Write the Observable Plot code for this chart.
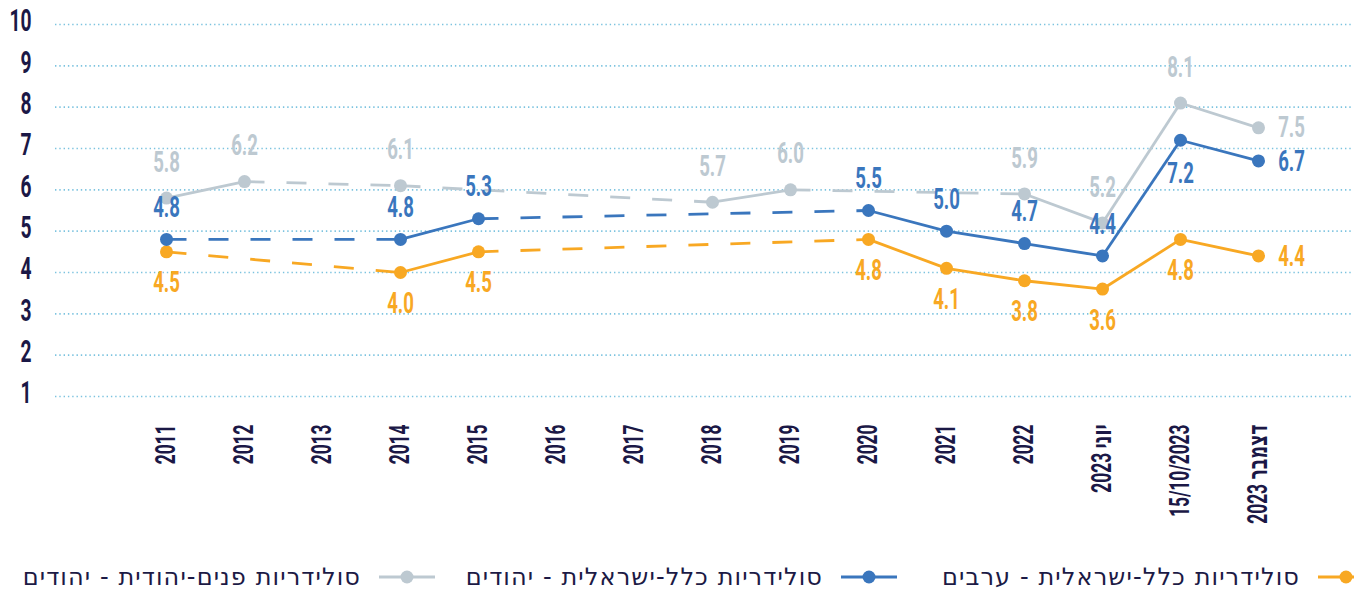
<!DOCTYPE html>
<html>
<head>
<meta charset="utf-8">
<script src="https://cdn.jsdelivr.net/npm/d3@7"></script>
<script src="https://cdn.jsdelivr.net/npm/@observablehq/plot@0.6"></script>
<style>
  html, body { margin: 0; padding: 0; background: #fff; overflow: hidden; }
  #wrap { position: relative; width: 1354px; height: 591px; overflow: hidden; }
  #legend .item { position: absolute; top: 563px; display: flex; flex-direction: row; align-items: center; gap: 18px;
            font-family: "DejaVu Sans", "Liberation Sans", sans-serif; font-size: 24px; letter-spacing: 1.1px; color: #1c1a45; white-space: nowrap; direction: rtl; }
  #legend svg { display: block; }
</style>
</head>
<body>
<div id="wrap"><div id="chart"></div><div id="legend"></div></div>
<script>
const categories = ["2011","2012","2013","2014","2015","2016","2017","2018","2019","2020","2021","2022","יוני 2023","15/10/2023","דצמבר 2023"];
const seriesNames = ["סולידריות כלל-ישראלית - ערבים", "סולידריות כלל-ישראלית - יהודים", "סולידריות פנים-יהודית - יהודים"];
const seriesColors = ["#f8a823", "#3a76bd", "#bdc9d1"];
const arabsIsraeli  = [4.5, null, null, 4.0, 4.5, null, null, null, null, 4.8, 4.1, 3.8, 3.6, 4.8, 4.4];
const jewsIsraeli   = [4.8, null, null, 4.8, 5.3, null, null, null, null, 5.5, 5.0, 4.7, 4.4, 7.2, 6.7];
const jewsInternal  = [5.8, 6.2, null, 6.1, null, null, null, 5.7, 6.0, null, null, 5.9, 5.2, 8.1, 7.5];
const yTicks = [1, 2, 3, 4, 5, 6, 7, 8, 9, 10];

const seriesValues = [arabsIsraeli, jewsIsraeli, jewsInternal];
const points = [];
const segments = [];
seriesValues.forEach((vals, si) => {
  let prev = null;
  vals.forEach((v, i) => {
    if (v == null) return;
    const p = {series: seriesNames[si], si, cat: categories[i], idx: i, value: v};
    points.push(p);
    if (prev) segments.push({series: seriesNames[si], si, x1: prev.cat, y1: prev.value, x2: p.cat, y2: p.value, gap: p.idx - prev.idx > 1});
    prev = p;
  });
});
const last = categories[categories.length - 1];
const oct = categories[categories.length - 2];

const font = "Roboto, 'DejaVu Sans', sans-serif";
const navy = "#1b1846";
const fmt = d => d.value.toFixed(1);

const chart = Plot.plot({
  width: 1354, height: 555,
  marginLeft: 55, marginRight: 2, marginTop: 24, marginBottom: 159,
  style: {fontFamily: font, background: "#fff", overflow: "visible"},
  x: {type: "point", domain: categories, padding: 0, insetLeft: 108, insetRight: 92},
  y: {domain: [1, 10]},
  color: {domain: seriesNames, range: seriesColors},
  marks: [
    Plot.ruleY(yTicks, {stroke: "#7cc3df", strokeWidth: 1.6, strokeDasharray: "1.4 2.9"}),
    Plot.axisY({ticks: yTicks, tickSize: 0, tickPadding: 24, dy: -3, fontSize: 31, fontWeight: "bold", fill: navy, label: null}),
    Plot.axisX({tickSize: 0, tickRotate: -90, tickPadding: 28, fontSize: 28, fontWeight: "bold", fill: navy, label: null}),
    Plot.link(segments.filter(d => !d.gap), {x1: "x1", y1: "y1", x2: "x2", y2: "y2", stroke: "series", strokeWidth: 2.8}),
    Plot.link(segments.filter(d => d.gap), {x1: "x1", y1: "y1", x2: "x2", y2: "y2", stroke: "series", strokeWidth: 2.8, strokeDasharray: "20 22"}),
    Plot.dot(points, {x: "cat", y: "value", fill: "series", r: 6.5}),
    Plot.text(points.filter(d => d.si === 2 && d.cat !== last), {x: "cat", y: "value", text: fmt, fill: "series", dy: -36, fontSize: 30, fontWeight: "bold"}),
    Plot.text(points.filter(d => d.si === 1 && d.cat !== last && d.cat !== oct), {x: "cat", y: "value", text: fmt, fill: "series", dy: -32, fontSize: 30, fontWeight: "bold"}),
    Plot.text(points.filter(d => d.si === 1 && d.cat === oct), {x: "cat", y: "value", text: fmt, fill: "series", dy: 33, fontSize: 30, fontWeight: "bold"}),
    Plot.text(points.filter(d => d.si === 0 && d.cat !== last), {x: "cat", y: "value", text: fmt, fill: "series", dy: 31, fontSize: 30, fontWeight: "bold"}),
    Plot.text(points.filter(d => d.cat === last), {x: "cat", y: "value", text: fmt, fill: "series", dx: 33, fontSize: 30, fontWeight: "bold"})
  ]
});
// condense the glyphs horizontally (narrow display face of the original)
d3.select(chart).selectAll("text").each(function() {
  const t = this.getAttribute("transform") || "";
  const x = this.getAttribute("x");
  let extra = "";
  if (x != null && isFinite(+x)) {
    extra = ` translate(${+x},0)`;
    this.removeAttribute("x");
  }
  this.setAttribute("transform", `${t}${extra} scale(0.62,1)`);
});
document.getElementById("chart").appendChild(chart);

const legendRight = [-20, 457, 919];
const legend = document.getElementById("legend");
seriesNames.forEach((name, i) => {
  const item = document.createElement("div");
  item.className = "item";
  item.style.right = legendRight[i] + "px";
  item.innerHTML = `<svg width="56" height="16"><line x1="0" x2="56" y1="8" y2="8" stroke="${seriesColors[i]}" stroke-width="3"/><circle cx="28" cy="8" r="6.5" fill="${seriesColors[i]}"/></svg><span>${name}</span>`;
  legend.appendChild(item);
});
</script>
</body>
</html>
